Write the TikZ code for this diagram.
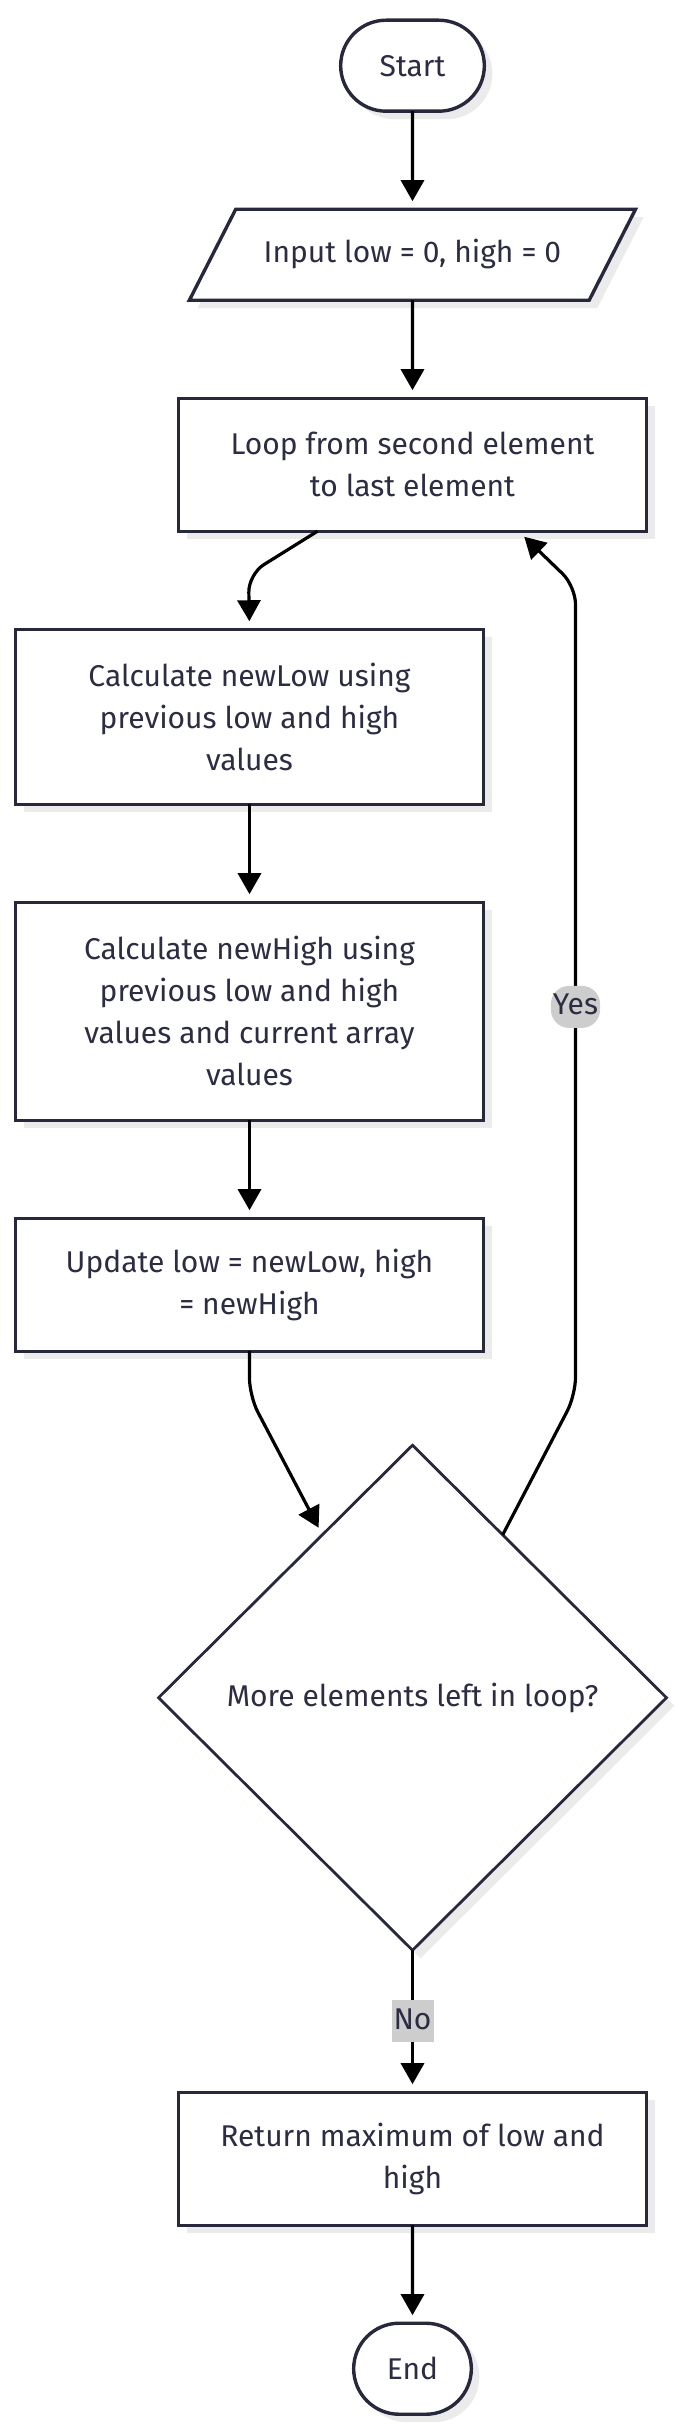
\documentclass[tikz,border=0pt]{standalone}
\usepackage{fontspec}
\setmainfont{Fira Sans}
\usetikzlibrary{arrows.meta, shapes.geometric, shapes.misc, positioning, calc, shadows}
\definecolor{nodeline}{HTML}{28283C}
\definecolor{nodetext}{HTML}{2C2C42}
\definecolor{lblfill}{HTML}{CDCDCD}

\begin{document}
\begin{tikzpicture}[
    base/.style={draw=nodeline, line width=1.7pt, fill=white, text=nodetext, font=\fontsize{15}{21}\selectfont, align=center, outer sep=0pt, drop shadow={shadow xshift=4pt, shadow yshift=-4pt, fill=black!8, opacity=1}},
    terminal/.style={base, rounded rectangle, minimum height=45.5pt},
    io/.style={base, trapezium, trapezium left angle=63, trapezium right angle=117, text height=11pt, text depth=3.5pt, inner xsep=14pt, inner ysep=15.5pt},
    box/.style={base, rectangle, minimum width=234pt, minimum height=66.5pt},
    decision/.style={base, diamond, aspect=1, minimum width=254pt, minimum height=252.5pt, line width=1.4pt},
    arrow/.style={-{Triangle[width=11.5pt, length=10.5pt]}, line width=1.6pt, shorten >=4pt},
    lbl/.style={fill=lblfill, text=nodetext, font=\fontsize{15}{18}\selectfont, inner xsep=1pt, inner ysep=3.5pt, text height=11pt, text depth=3pt},
    node distance=49pt
]
\useasboundingbox (0,0) rectangle (339.5pt,-1217.5pt);

% Start / input
\node[terminal, minimum width=78.5pt] (start) at (206.25pt,-32.85pt) {Start};
\node[io, below=of start] (input) {Input low = 0, high = 0};

% Loop body
\node[box, below=of input] (loop) {Loop from second element\\to last element};
\node[box, below=of loop, xshift=-81.5pt, minimum height=87.5pt] (newlow) {Calculate newLow using\\previous low and high\\values};
\node[box, below=of newlow, minimum height=109pt] (newhigh) {Calculate newHigh using\\previous low and high\\values and current array\\values};
\node[box, below=of newhigh] (update) {Update low = newLow, high\\= newHigh};

% Check
\node[decision, below=of update, xshift=81.5pt, yshift=2pt] (cond) {More elements left in loop?};

% Result
\node[box, below=of cond, yshift=-22pt] (ret) {Return maximum of low and\\high};
\node[terminal, below=of ret, minimum width=65.5pt] (end) {End};

% Arrows
\draw[arrow] (start) -- (input);
\draw[arrow] (input) -- (loop);
\draw[arrow, rounded corners=9pt] ([xshift=-47.5pt]loop.south) -- ++(-34.5pt,-21.5pt) -- (newlow.north);
\draw[arrow] (newlow) -- (newhigh);
\draw[arrow] (newhigh) -- (update);
\draw[arrow, rounded corners=9pt] (update.south) -- ([yshift=-22.5pt]update.south) -- ($(cond.north)!0.355!(cond.west)$);
\draw[arrow, rounded corners=9pt] ($(cond.north)!0.355!(cond.east)$) -- ([xshift=81.5pt, yshift=25pt]cond.north) -- node[lbl, pos=0.48] {Yes} ([xshift=-35.5pt, yshift=-27.5pt]loop.south east) -- ([xshift=53pt]loop.south);
\draw[arrow] (cond) -- node[lbl] {No} (ret);
\draw[arrow] (ret) -- (end);
\end{tikzpicture}
\end{document}
